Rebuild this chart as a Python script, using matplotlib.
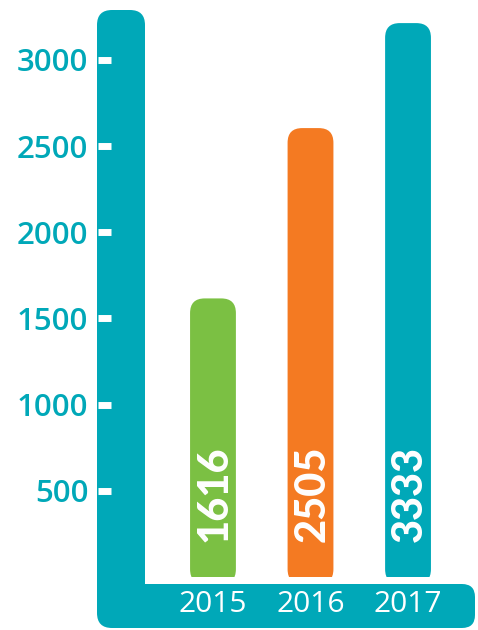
import matplotlib
matplotlib.use("Agg")
import matplotlib.pyplot as plt
from matplotlib.patches import FancyBboxPatch
from matplotlib.transforms import IdentityTransform

# ---- data ----
years = ["2015", "2016", "2017"]
bar_heights = [1616, 2604, 3213]          # drawn heights
value_labels = ["1616", "2505", "3333"]   # printed values
bar_colors = ["#7BC043", "#F47A22", "#00A8B8"]
yticks = [500, 1000, 1500, 2000, 2500, 3000]

TEAL = "#00A8B8"
W, H = 478, 630
fig = plt.figure(figsize=(W / 100, H / 100), dpi=100)
ax_left, ax_right, ax_bottom = 98, 476, 53
ax = fig.add_axes([ax_left / W, ax_bottom / H, (ax_right - ax_left) / W, 1 - ax_bottom / H])
xlim = (-1.179, 2.697)
ylim = (0, 3347)
ax.set_xlim(*xlim)
ax.set_ylim(*ylim)
for s in ax.spines.values():
    s.set_visible(False)
ax.patch.set_alpha(0)

# aspect for round corners
ax_w_px = ax_right - ax_left
ax_h_px = H - ax_bottom
asp = ((ylim[1] - ylim[0]) / ax_h_px) / ((xlim[1] - xlim[0]) / ax_w_px)

bottom = -40
bars = ax.bar(range(len(years)), [h - bottom for h in bar_heights], bottom=bottom,
              width=0.47, color=bar_colors)
for rect, c in zip(bars, bar_colors):
    x, y = rect.get_x(), rect.get_y()
    w, h = rect.get_width(), rect.get_height()
    rect.set_visible(False)
    p = FancyBboxPatch((x, y), w, h, boxstyle=f"round,pad=0,rounding_size={0.15}",
                       mutation_aspect=asp, fc=c, ec="none", zorder=1)
    ax.add_patch(p)

# L-shaped axis band (display pixel coords)
vband = FancyBboxPatch((97, H - 628), 48, 618, boxstyle="round,pad=0,rounding_size=15",
                       transform=IdentityTransform(), fc=TEAL, ec="none",
                       clip_on=False, zorder=1.5)
hband = FancyBboxPatch((118, H - 628), 357, 44, boxstyle="round,pad=0,rounding_size=13",
                       transform=IdentityTransform(), fc=TEAL, ec="none",
                       clip_on=False, zorder=1.5)
ax.add_artist(vband)
ax.add_artist(hband)

# y ticks
ax.set_yticks(yticks)
ax.set_yticklabels([str(t) for t in yticks])
ax.tick_params(axis="y", direction="in", length=9.4, width=5, color="white",
               pad=7, labelcolor=TEAL, labelsize=22.5)
for lbl in ax.get_yticklabels():
    lbl.set_fontfamily("Open Sans")
    lbl.set_fontweight("semibold")

# x ticks
ax.set_xticks(range(len(years)))
ax.set_xticklabels(years)
ax.tick_params(axis="x", length=0, pad=9.5, labelcolor="white", labelsize=21.5)
for lbl in ax.get_xticklabels():
    lbl.set_fontfamily("Open Sans")

# value labels
for i, lab in enumerate(value_labels):
    ax.text(i + 0.02, 203, lab, rotation=90, ha="center", va="bottom", color="white",
            fontsize=30, fontfamily="Lato", fontweight="black", zorder=3)

fig.savefig("out.png", dpi=100)
